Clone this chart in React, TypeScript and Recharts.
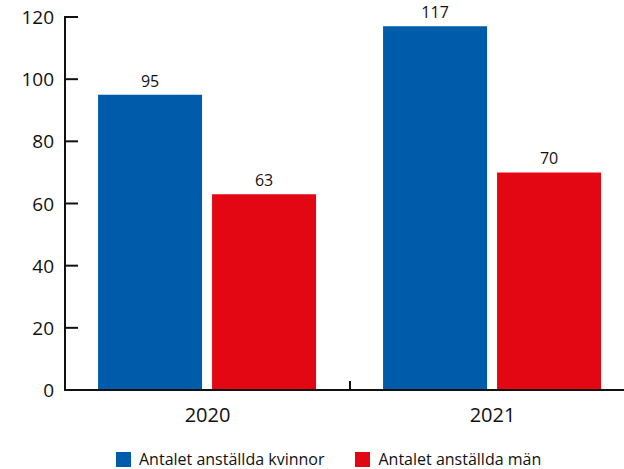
import React from 'react';
import { BarChart, Bar, XAxis, YAxis, LabelList } from 'recharts';

const years = ['2020', '2021'];
const kvinnor = [95, 117];
const man = [63, 70];
const yTicks = [0, 20, 40, 60, 80, 100, 120];

const seriesNames = ['Antalet anställda kvinnor', 'Antalet anställda män'];
const BLUE = '#005BAA';
const RED = '#E30613';
const INK = '#111111';
const FONT = '"Open Sans", Lato, sans-serif';

const data = years.map((year, i) => ({ year, kvinnor: kvinnor[i], man: man[i] }));

// y ticks point inwards, into the plot
const YTick = (props: any) => {
  const tx = Number(props.x);
  const ty = Number(props.y);
  return (
    <g>
      <line x1={tx + 10} x2={tx + 24} y1={ty} y2={ty} stroke={INK} strokeWidth={2} />
      <text x={tx} y={ty} dy={7} textAnchor="end" fontSize={19} fill={INK} fontFamily={FONT}>
        {props.payload.value}
      </text>
    </g>
  );
};

// category label plus a small tick on the boundary between categories
const XTick = ({ x, y, payload }: any) => {
  const half = payload.offset || 0;
  return (
    <g>
      {half > 0 && <line x1={x + half} x2={x + half} y1={y} y2={y - 9} stroke={INK} strokeWidth={2} />}
      <text x={x} y={y} dy={32} textAnchor="middle" fontSize={20} fill={INK} fontFamily={FONT}>
        {payload.value}
      </text>
    </g>
  );
};

const LegendBox = () => (
  <div
    style={{
      position: 'absolute',
      left: 116,
      top: 448,
      display: 'flex',
      alignItems: 'center',
      fontFamily: FONT,
      fontSize: 16,
      color: INK,
      whiteSpace: 'nowrap',
    }}
  >
    {seriesNames.map((name, i) => (
      <span key={name} style={{ display: 'flex', alignItems: 'center', marginRight: 31 }}>
        <span style={{ width: 15, height: 15, background: i === 0 ? BLUE : RED, marginRight: 8, display: 'inline-block' }} />
        {name}
      </span>
    ))}
  </div>
);

export default function App() {
  return (
    <div style={{ position: 'absolute', left: 0, top: 0, width: 624, height: 469, overflow: 'hidden', background: '#fff' }}>
      <BarChart
        width={640}
        height={469}
        data={data}
        margin={{ top: 17, right: 5, left: 0, bottom: 39 }}
        barCategoryGap="11.6%"
        barGap={10}
      >
        <XAxis
          dataKey="year"
          height={40}
          tickLine={false}
          tickSize={0}
          tickMargin={0}
          axisLine={{ stroke: INK, strokeWidth: 2 }}
          tick={<XTick />}
          interval={0}
        />
        <YAxis
          width={65}
          domain={[0, 120]}
          ticks={yTicks}
          interval={0}
          tickLine={false}
          tickSize={0}
          tickMargin={11}
          axisLine={{ stroke: INK, strokeWidth: 2 }}
          tick={<YTick />}
        />
        <Bar dataKey="kvinnor" name={seriesNames[0]} fill={BLUE} isAnimationActive={false}>
          <LabelList dataKey="kvinnor" position="top" offset={8} fontSize={16} fill={INK} fontFamily={FONT} />
        </Bar>
        <Bar dataKey="man" name={seriesNames[1]} fill={RED} isAnimationActive={false}>
          <LabelList dataKey="man" position="top" offset={8} fontSize={16} fill={INK} fontFamily={FONT} />
        </Bar>
      </BarChart>
      <LegendBox />
    </div>
  );
}
